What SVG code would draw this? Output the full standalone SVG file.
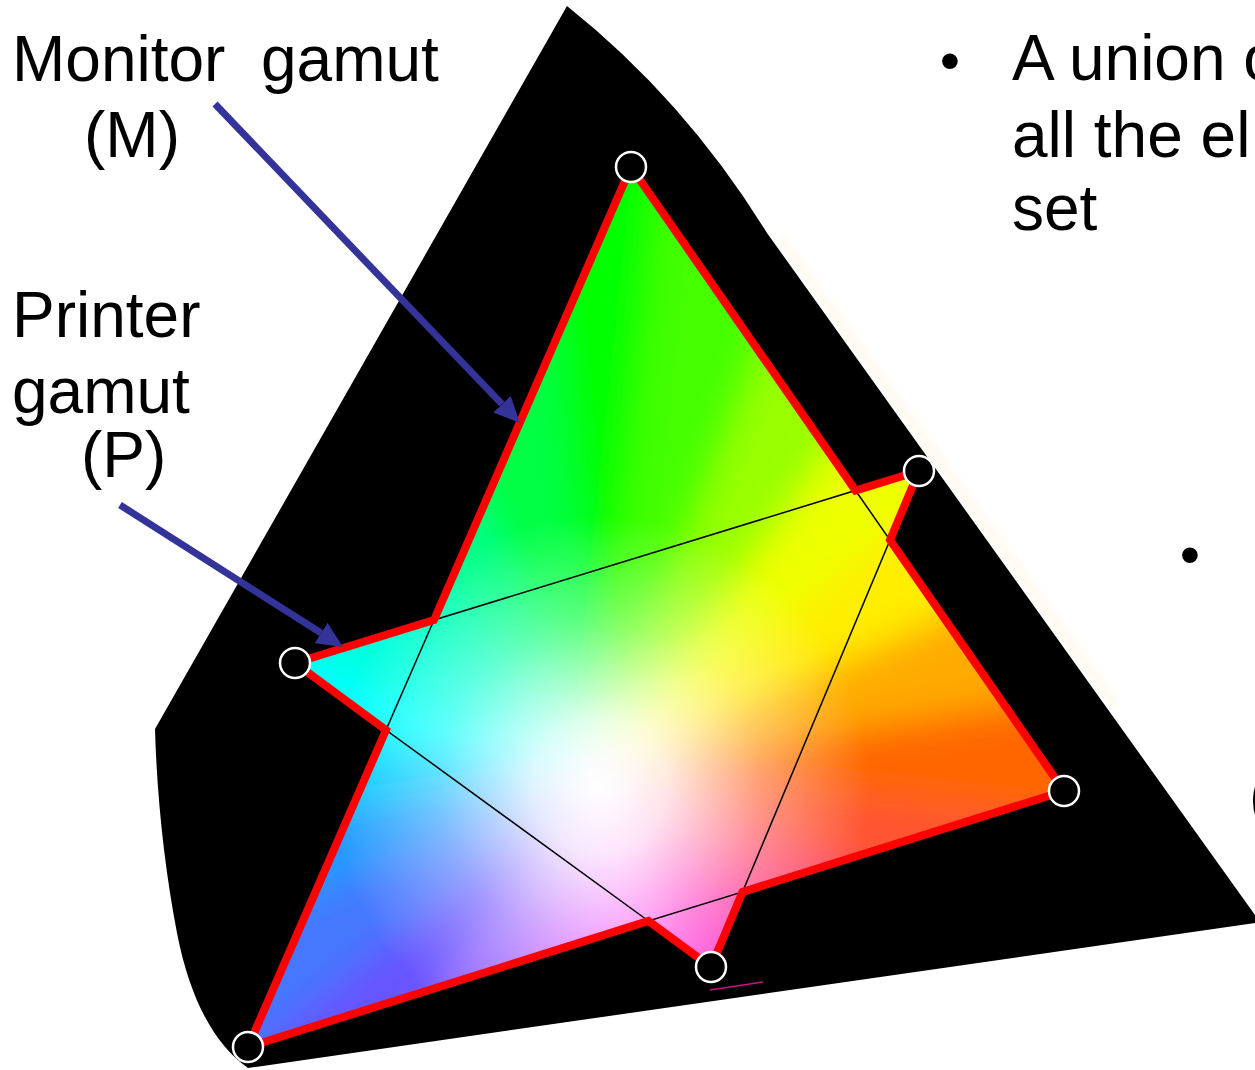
<svg xmlns="http://www.w3.org/2000/svg" xmlns:xlink="http://www.w3.org/1999/xlink" width="1255" height="1070" viewBox="0 0 1255 1070">
<style>
.lbl{font-family:"Liberation Sans",Arial,sans-serif;font-size:64px;fill:#000}
.vtx{fill:#000;stroke:#fff;stroke-width:2.5}
.inner{fill:none;stroke:#000;stroke-width:1.5}
.outline{fill:none;stroke:#ff0000;stroke-width:8;stroke-linejoin:miter}
.arrow{stroke:#333399;stroke-width:7;fill:none;marker-end:url(#head)}
</style>
<defs>
<marker id="head" markerUnits="userSpaceOnUse" markerWidth="26" markerHeight="24" viewBox="0 -12 26 24" refX="0" refY="0" orient="auto">
<path d="M0,-12 L26,0 L0,12 Z" fill="#333399"/>
</marker>
<clipPath id="unionClip">
<path d="M631,167 L855.5,490.5 L919,471 L890,540 L1064,791 L742.5,892 L711,967 L648.5,921 L248,1047 L386,730 L295,663 L434,620 Z"/>
</clipPath>
<filter id="blur" filterUnits="userSpaceOnUse" x="0" y="0" width="1255" height="1070">
<feGaussianBlur stdDeviation="18"/>
</filter>
<filter id="glow" filterUnits="userSpaceOnUse" x="0" y="0" width="1255" height="1070">
<feGaussianBlur stdDeviation="4"/>
</filter>
<radialGradient id="whiteCenter" gradientUnits="userSpaceOnUse" cx="600" cy="785" r="270">
<stop offset="0" stop-color="#fff" stop-opacity="1"/>
<stop offset="0.25" stop-color="#fff" stop-opacity="0.85"/>
<stop offset="0.6" stop-color="#fff" stop-opacity="0.38"/>
<stop offset="1" stop-color="#fff" stop-opacity="0"/>
</radialGradient>
<polygon id="wedge" points="0,0 1400,-222 1400,222"/>
</defs>
<rect width="1255" height="1070" fill="#fff"/>

<g id="horseshoe">
<path d="M780,238 L1115,705" stroke="#ffeecc" stroke-width="6" opacity="0.5" filter="url(#glow)" fill="none"/>
<path d="M567,6 Q685,100 767,233 L1255,915 L1255,923 L248,1068 C215,1045 190,1000 177,933 C165,870 157,800 155,729 Z" fill="#000"/>
</g>

<g id="gamut-fill" clip-path="url(#unionClip)">
<g filter="url(#blur)">
<g transform="translate(600,770)">
<use xlink:href="#wedge" transform="rotate(-90)" fill="#00ff00"/>
<use xlink:href="#wedge" transform="rotate(-75)" fill="#44ff00"/>
<use xlink:href="#wedge" transform="rotate(-60)" fill="#99ff00"/>
<use xlink:href="#wedge" transform="rotate(-45)" fill="#eeff00"/>
<use xlink:href="#wedge" transform="rotate(-30)" fill="#ffee00"/>
<use xlink:href="#wedge" transform="rotate(-15)" fill="#ffaa00"/>
<use xlink:href="#wedge" transform="rotate(0)" fill="#ff6600"/>
<use xlink:href="#wedge" transform="rotate(15)" fill="#ff5533"/>
<use xlink:href="#wedge" transform="rotate(30)" fill="#ff4466"/>
<use xlink:href="#wedge" transform="rotate(45)" fill="#ff3399"/>
<use xlink:href="#wedge" transform="rotate(60)" fill="#ff33cc"/>
<use xlink:href="#wedge" transform="rotate(75)" fill="#ff55ee"/>
<use xlink:href="#wedge" transform="rotate(90)" fill="#ee66ff"/>
<use xlink:href="#wedge" transform="rotate(105)" fill="#cc66ff"/>
<use xlink:href="#wedge" transform="rotate(120)" fill="#9966ff"/>
<use xlink:href="#wedge" transform="rotate(135)" fill="#6655ff"/>
<use xlink:href="#wedge" transform="rotate(150)" fill="#4477ff"/>
<use xlink:href="#wedge" transform="rotate(165)" fill="#2299ff"/>
<use xlink:href="#wedge" transform="rotate(180)" fill="#00ccff"/>
<use xlink:href="#wedge" transform="rotate(195)" fill="#00ffff"/>
<use xlink:href="#wedge" transform="rotate(210)" fill="#00ffdd"/>
<use xlink:href="#wedge" transform="rotate(225)" fill="#00ffbb"/>
<use xlink:href="#wedge" transform="rotate(240)" fill="#00ff88"/>
<use xlink:href="#wedge" transform="rotate(255)" fill="#00ff44"/>
</g>
</g>
<rect x="0" y="0" width="1255" height="1070" fill="url(#whiteCenter)"/>
</g>

<g id="intersection-edges">
<path class="inner" d="M434,620 L855.5,490.5 L890,540 L742.5,892 L648.5,921 L386,730 Z"/>
</g>

<g id="union-outline">
<path class="outline" d="M631,167 L855.5,490.5 L919,471 L890,540 L1064,791 L742.5,892 L711,967 L648.5,921 L248,1047 L386,730 L295,663 L434,620 Z"/>
<path d="M710,990 L763,982" stroke="#cc1188" stroke-width="1.5" fill="none"/>
</g>

<g id="connectors">
<line class="arrow" x1="215" y1="104" x2="502" y2="404.2"/>
<line class="arrow" x1="120" y1="505" x2="321.1" y2="633"/>
</g>

<g id="monitor-vertex-green"><circle class="vtx" cx="631" cy="167" r="15"/></g>
<g id="monitor-vertex-red"><circle class="vtx" cx="1064" cy="791" r="15"/></g>
<g id="monitor-vertex-blue"><circle class="vtx" cx="248" cy="1047" r="15"/></g>
<g id="printer-vertex-yellow"><circle class="vtx" cx="919" cy="471" r="15"/></g>
<g id="printer-vertex-magenta"><circle class="vtx" cx="711" cy="967" r="15"/></g>
<g id="printer-vertex-cyan"><circle class="vtx" cx="295" cy="663" r="15"/></g>

<g id="label-monitor">
<text class="lbl" x="12" y="81" xml:space="preserve">Monitor  gamut</text>
<text class="lbl" x="84" y="157">(M)</text>
</g>
<g id="label-printer">
<text class="lbl" x="12" y="337">Printer</text>
<text class="lbl" x="12" y="413">gamut</text>
<text class="lbl" x="81" y="477">(P)</text>
</g>
<g id="bullet-text">
<text class="lbl" x="950" y="80" text-anchor="middle" style="font-size:58px">•</text>
<text class="lbl" x="1012" y="80">A union o</text>
<text class="lbl" x="1012" y="157">all the el</text>
<text class="lbl" x="1012" y="230">set</text>
<text class="lbl" x="1190" y="574" text-anchor="middle" style="font-size:58px">•</text>
<text class="lbl" x="1249" y="818">(</text>
</g>
</svg>
